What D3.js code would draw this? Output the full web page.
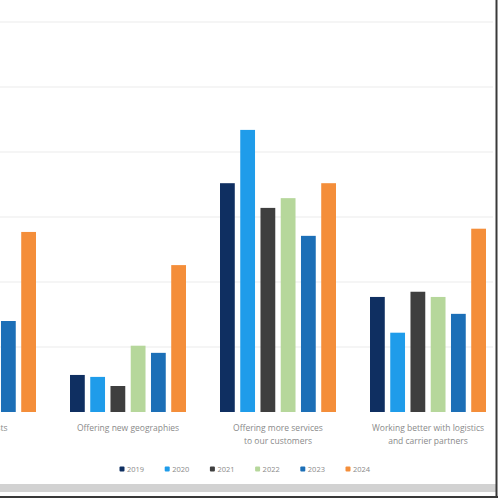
<!DOCTYPE html>
<html><head><meta charset="utf-8">
<script src="https://cdn.jsdelivr.net/npm/d3@7/dist/d3.min.js"></script>
<style>
html,body{margin:0;padding:0;background:#fff;overflow:hidden;}
svg{display:block;font-family:"Open Sans","Liberation Sans",sans-serif;}
</style></head>
<body>
<svg id="chart" width="500" height="500"></svg>
<script>
const categories = [
  ["Reducing costs"],
  ["Offering new geographies"],
  ["Offering more services", "to our customers"],
  ["Working better with logistics", "and carrier partners"]
];
const seriesNames = ["2019", "2020", "2021", "2022", "2023", "2024"];
const seriesColors = ["#0f2f61", "#1f9cea", "#3f3f3f", "#b6d79b", "#1c6fb7", "#f48e3a"];
const values2019 = [20.0, 5.7, 35.2, 17.7];
const values2020 = [22.0, 5.4, 43.4, 12.2];
const values2021 = [18.0, 4.0, 31.4, 18.5];
const values2022 = [21.0, 10.2, 32.9, 17.7];
const values2023 = [14.0, 9.1, 27.1, 15.1];
const values2024 = [27.7, 22.6, 35.2, 28.2];
const seriesValues = [values2019, values2020, values2021, values2022, values2023, values2024];
const yTicks = [0, 10, 20, 30, 40, 50, 60];

const svg = d3.select("#chart");
const catKeys = categories.map(c => c.join(" "));
const x0 = d3.scaleBand().domain(catKeys).range([-97, 503]).padding(0);
const x1 = d3.scaleBand().domain(seriesNames).range([17, 133]).paddingInner(0.27).paddingOuter(0);
const y = d3.scaleLinear().domain([0, 60]).range([412, 22]);

// gridlines
svg.append("g").selectAll("line").data(yTicks.slice(1)).join("line")
  .attr("x1", 0).attr("x2", 493)
  .attr("y1", d => y(d)).attr("y2", d => y(d))
  .attr("stroke", "#f2f2f2").attr("stroke-width", 1.5);

// bars
const groups = svg.append("g").selectAll("g").data(catKeys).join("g")
  .attr("transform", d => `translate(${x0(d)},0)`);
groups.selectAll("rect")
  .data((d, i) => seriesNames.map((s, j) => ({s, j, v: seriesValues[j][i]})))
  .join("rect")
  .attr("x", d => x1(d.s))
  .attr("width", x1.bandwidth())
  .attr("y", d => y(d.v))
  .attr("height", d => y(0) - y(d.v))
  .attr("fill", d => seriesColors[d.j]);

// category labels
const labels = svg.append("g").selectAll("text").data(categories).join("text")
  .attr("x", (d, i) => x0(catKeys[i]) + x0.bandwidth() / 2)
  .attr("y", 431)
  .attr("text-anchor", "middle")
  .attr("font-size", 8.5)
  .attr("fill", "#8a8a8a");
labels.selectAll("tspan").data(d => d).join("tspan")
  .attr("x", function() { return this.parentNode.getAttribute("x"); })
  .attr("dy", (d, i) => i === 0 ? 0 : 13)
  .text(d => d);

// legend
const legendX = d3.scalePoint().domain(seriesNames).range([122, 348]);
const lg = svg.append("g").selectAll("g").data(seriesNames).join("g")
  .attr("transform", d => `translate(${legendX(d)},469)`);
lg.append("rect").attr("x", -2.5).attr("y", -2.5).attr("width", 5).attr("height", 5)
  .attr("rx", 1)
  .attr("fill", (d, i) => seriesColors[i]);
lg.append("text").attr("x", 5).attr("y", 2.5)
  .attr("font-size", 7.5).attr("fill", "#8a8a8a").text(d => d);

// frame (screenshot edges)
svg.append("rect").attr("x", 0).attr("y", 484).attr("width", 496).attr("height", 8).attr("fill", "#d2d2d2");
svg.append("rect").attr("x", 0).attr("y", 496).attr("width", 498).attr("height", 2).attr("fill", "#3a3a3a");
svg.append("rect").attr("x", 495.5).attr("y", 0).attr("width", 2).attr("height", 498).attr("fill", "#3a3a3a");
</script>
</body></html>
